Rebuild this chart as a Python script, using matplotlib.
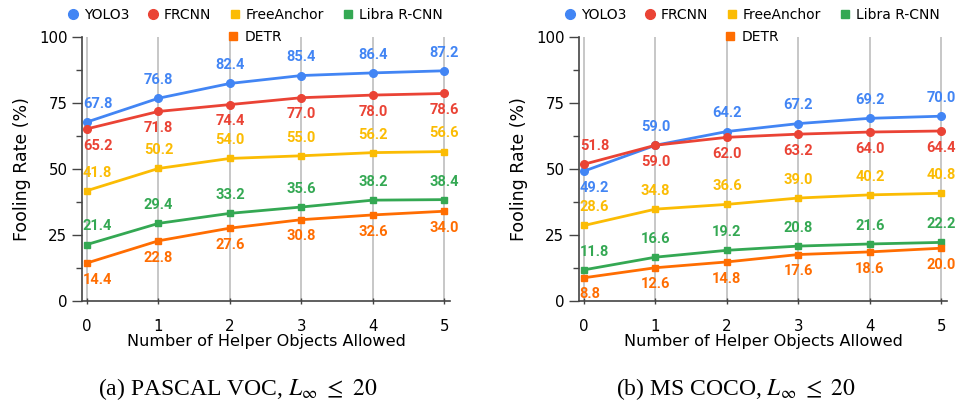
import matplotlib
matplotlib.use("Agg")
import matplotlib.pyplot as plt
from matplotlib.lines import Line2D
from matplotlib.ticker import MultipleLocator

plt.rcParams["font.family"] = "DejaVu Sans"
plt.rcParams["mathtext.fontset"] = "stix"

helpers = [0, 1, 2, 3, 4, 5]
models = ["YOLO3", "FRCNN", "FreeAnchor", "Libra R-CNN", "DETR"]
colors = ["#4285F4", "#EA4335", "#FBBC04", "#34A853", "#FF6D01"]
markers = ["o", "o", "s", "s", "s"]

# PASCAL VOC
voc_yolo = [67.8, 76.8, 82.4, 85.4, 86.4, 87.2]
voc_frcnn = [65.2, 71.8, 74.4, 77.0, 78.0, 78.6]
voc_free = [41.8, 50.2, 54.0, 55.0, 56.2, 56.6]
voc_libra = [21.4, 29.4, 33.2, 35.6, 38.2, 38.4]
voc_detr = [14.4, 22.8, 27.6, 30.8, 32.6, 34.0]

# MS COCO
coco_yolo = [49.2, 59.0, 64.2, 67.2, 69.2, 70.0]
coco_frcnn = [51.8, 59.0, 62.0, 63.2, 64.0, 64.4]
coco_free = [28.6, 34.8, 36.6, 39.0, 40.2, 40.8]
coco_libra = [11.8, 16.6, 19.2, 20.8, 21.6, 22.2]
coco_detr = [8.8, 12.6, 14.8, 17.6, 18.6, 20.0]

# label side per point: +1 above, -1 below
voc_sides = [[1] * 6, [-1] * 6, [1] * 6, [1] * 6, [-1] * 6]
coco_sides = [[-1] + [1] * 5, [1] + [-1] * 5, [1] * 6, [1] * 6, [-1] * 6]

panels = [
    ([voc_yolo, voc_frcnn, voc_free, voc_libra, voc_detr], voc_sides,
     [82 / 958, 0.2531, 368 / 958, 0.6551], 238 / 958,
     r"(a) PASCAL VOC, $L_\infty\ \leq\ 20$"),
    ([coco_yolo, coco_frcnn, coco_free, coco_libra, coco_detr], coco_sides,
     [579 / 958, 0.2531, 368 / 958, 0.6551], 736 / 958,
     r"(b) MS COCO, $L_\infty\ \leq\ 20$"),
]

fig = plt.figure(figsize=(9.58, 4.03), dpi=100)

for series, sides, rect, cap_x, caption in panels:
    ax = fig.add_axes(rect)
    ax.set_xlim(-0.07, 5.08)
    ax.set_ylim(0, 100)
    ax.grid(axis="x", color="#bdbdbd", linewidth=1.2)
    ax.set_axisbelow(True)

    for vals, side, name, c, m in zip(series, sides, models, colors, markers):
        ax.plot(helpers, vals, color=c, marker=m, markersize=5.5 if m == "o" else 5,
                linewidth=2, label=name, zorder=3)
        for x, v, s in zip(helpers, vals, side):
            ha = "left" if x == 0 else "center"
            dx = -3 if x == 0 else 0
            ax.annotate(f"{v:.1f}", (x, v), textcoords="offset points",
                        xytext=(dx, 8 if s > 0 else -7), ha=ha,
                        va="bottom" if s > 0 else "top",
                        fontsize=10.5, fontweight="bold", color=c,
                        family="Roboto", zorder=4)

    ax.spines[["top", "right"]].set_visible(False)
    for sp in ("left", "bottom"):
        ax.spines[sp].set_color("#444444")
        ax.spines[sp].set_linewidth(1.2)
    ax.set_xticks(helpers)
    ax.yaxis.set_major_locator(MultipleLocator(25))
    ax.yaxis.set_minor_locator(MultipleLocator(12.5))
    ax.tick_params(axis="y", which="major", length=7.5, width=1, color="#444444",
                   labelsize=10.8, pad=3)
    ax.tick_params(axis="y", which="minor", length=4.5, width=1, color="#444444")
    ax.tick_params(axis="x", length=4, direction="inout", width=1, color="#444444",
                   labelsize=10.8, pad=11)
    ax.set_xlabel("Number of Helper Objects Allowed", fontsize=11.6, labelpad=0)
    ax.set_ylabel("Fooling Rate (%)", fontsize=12.5, labelpad=6)

    handles = [Line2D([], [], color=c, marker=m, linestyle="none", markersize=7 if m == "o" else 6)
               for c, m in zip(colors, markers)]
    leg1 = ax.legend(handles[:4], models[:4], ncol=4, loc="center",
                     bbox_to_anchor=(0.47, 1.085), frameon=False, fontsize=10,
                     handlelength=0.8, handletextpad=0.4, columnspacing=1.3,
                     borderaxespad=0)
    ax.add_artist(leg1)
    ax.legend(handles[4:], models[4:], loc="center", bbox_to_anchor=(0.47, 1.0),
              frameon=False, fontsize=10, handlelength=0.8, handletextpad=0.4,
              borderaxespad=0)

    fig.text(cap_x, 1 - 389 / 403, caption, ha="center", va="center",
             fontsize=17, family="Liberation Serif")

fig.savefig("out.png", dpi=100)
